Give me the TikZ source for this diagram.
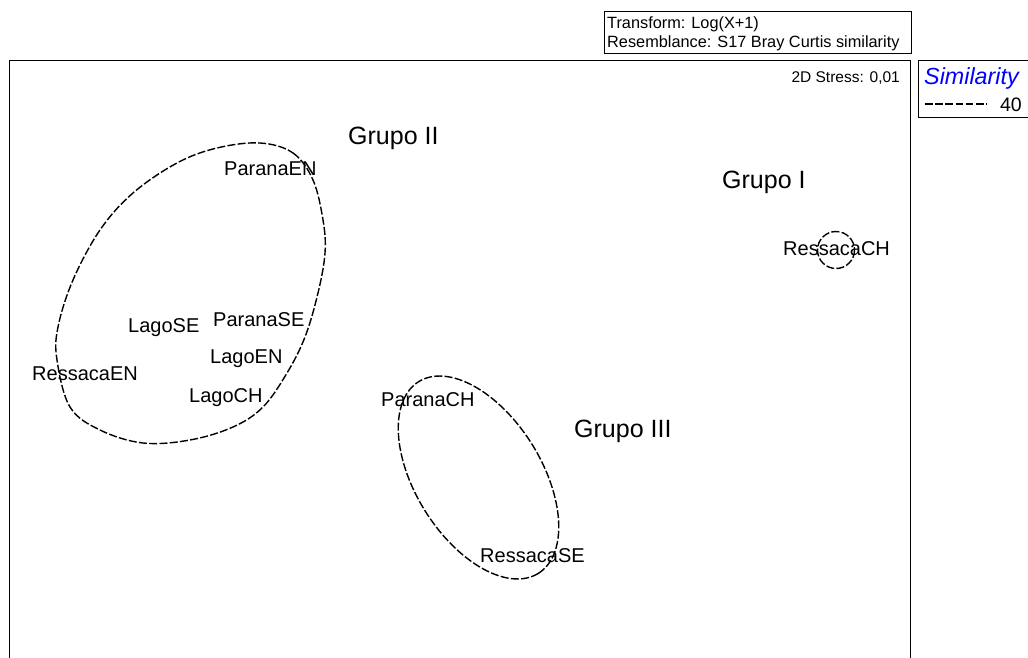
\documentclass[tikz,border=0pt]{standalone}
\usepackage{fontspec}
\setmainfont{Liberation Sans}
\begin{document}
\begin{tikzpicture}[x=1pt,y=-1pt,
  lbl/.style={font=\fontsize{20}{22}\selectfont, inner sep=0pt, anchor=base west},
  grp/.style={font=\fontsize{25}{28}\selectfont, inner sep=0pt, anchor=base west},
  small/.style={font=\fontsize{16.3}{18}\selectfont, inner sep=0pt, anchor=base west},
  simline/.style={dash pattern=on 8pt off 2.3pt, line width=1.4pt},
  framebox/.style={draw, line width=0.9pt, inner sep=0pt}]
\useasboundingbox (0,0) rectangle (1028,658);

% main frame (open at bottom)
\draw[line width=0.9pt] (9.5,665) -- (9.5,60.5) -- (910.5,60.5) -- (910.5,665);

% info box
\node[framebox, anchor=north west, minimum width=307pt, minimum height=41.5pt] (infobox) at (603.5,11.5) {};
\node[small] (tr) at (607,29) {Transform: Log(X+1)};
\node[small] (rs) at (607,47.5) {Resemblance: S17 Bray Curtis similarity};

% legend box
\node[framebox, anchor=north west, minimum width=115pt, minimum height=57pt] (legbox) at (917.5,60.5) {};
\node[font=\fontsize{23.3}{25}\selectfont\itshape, text=blue, inner sep=0pt, anchor=base west] (simt) at (924,85) {Similarity};
\coordinate (ls) at (925,104);
\coordinate (le) at (987,104);
\draw[dash pattern=on 7.6pt off 2.6pt, line width=1.2pt] (ls) -- (le);
\node[font=\fontsize{19.5}{22}\selectfont, inner sep=0pt, anchor=base east] (forty) at (1022,111.5) {40};

% stress
\node[font=\fontsize{15.5}{17}\selectfont, inner sep=0pt, anchor=base east] (stress) at (900,83) {2D Stress: 0,01};

% group labels
\node[grp] (g2) at (348,145) {Grupo II};
\node[grp] (g1) at (722,188) {Grupo I};
\node[grp] (g3) at (574,437.5) {Grupo III};

% sample labels
\node[lbl] (pen) at (224,175.5) {ParanaEN};
\node[lbl] (lse) at (128,332) {LagoSE};
\node[lbl] (pse) at (213,326) {ParanaSE};
\node[lbl] (len) at (210,363.5) {LagoEN};
\node[lbl] (ren) at (32,380) {RessacaEN};
\node[lbl] (lch) at (189,402.5) {LagoCH};
\node[lbl] (pch) at (381,406) {ParanaCH};
\node[lbl] (rse) at (480,562.5) {RessacaSE};
\node[lbl] (rch) at (783,255) {RessacaCH};

% similarity contours
\draw[simline] plot[smooth cycle, tension=0.6] coordinates {
  (260,143) (293,153) (313,180) (323,220) (325,253) (318,293) (305,337)
  (287,373) (263,407) (233,427) (190,440) (143,443) (100,430) (70,407)
  (57,360) (58,327) (73,280) (100,230) (133,193) (177,163) (217,148)};

\draw[simline] plot[domain=0:360, samples=120, smooth]
  ({478.5+113*cos(\x)*cos(58)-63*sin(\x)*sin(58)},
   {477.5+113*cos(\x)*sin(58)+63*sin(\x)*cos(58)});

\draw[simline] (836,250) circle[radius=18.5];
\end{tikzpicture}
\end{document}
